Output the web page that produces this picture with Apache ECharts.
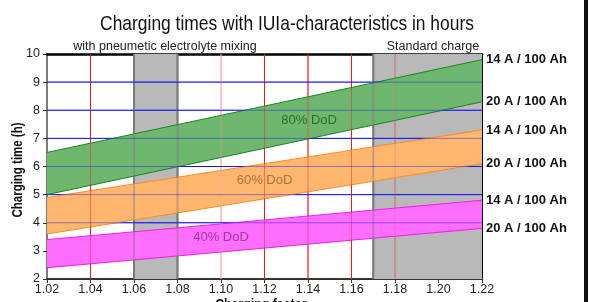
<!DOCTYPE html>
<html>
<head>
<meta charset="utf-8">
<script src="https://cdn.jsdelivr.net/npm/echarts@6/dist/echarts.min.js"></script>
<style>
  html, body { margin: 0; padding: 0; background: #fff; }
  #chart { width: 590px; height: 302px; }
</style>
</head>
<body>
<div id="chart"></div>
<script>
// charging factor at both ends of every band
const factors = [1.02, 1.22];
// charging time (h): upper edge = 14 A / 100 Ah, lower edge = 20 A / 100 Ah
const dod80Upper = [6.5, 9.8];
const dod80Lower = [5.0, 8.3];
const dod60Upper = [4.9, 7.3];
const dod60Lower = [3.6, 6.1];
const dod40Upper = [3.4, 4.8];
const dod40Lower = [2.4, 3.8];
const bandNames = ['80% DoD', '60% DoD', '40% DoD'];
const edgeNames = ['14 A / 100 Ah', '20 A / 100 Ah'];
// shaded charge-factor ranges
const mixingRange = [1.06, 1.08];
const standardRange = [1.17, 1.22];
// grid lines
const redLines = [1.04, 1.10, 1.12, 1.14, 1.16, 1.18];
const grayLines = [1.06, 1.08, 1.17];
const blueLines = [4, 5, 6, 7, 8, 9];
// where the band names sit (factor, hours)
const bandNameSpots = [[1.1405, 7.65], [1.12, 5.5], [1.1, 3.47]];

const sans = "'Liberation Sans', Arial, sans-serif";
const yMin = 2, yMax = 10, xMin = 1.02, xMax = 1.22;

const bands = [
  { upper: dod80Upper, lower: dod80Lower, fill: '#6fb76f', edge: '#17851a', text: '#1d5a1d' },
  { upper: dod60Upper, lower: dod60Lower, fill: '#ffb76f', edge: '#ff8a1c', text: '#9c5e2a' },
  { upper: dod40Upper, lower: dod40Lower, fill: '#ff6eff', edge: '#f01cf0', text: '#8a2c8a' }
];

const pts = (ys) => factors.map((x, i) => [x, ys[i]]);

function redColor(v) {
  if (Math.abs(v - 1.10) < 1e-6) return '#ff9c9c';
  if (Math.abs(v - 1.18) < 1e-6) return '#c97b7b';
  return '#ff1414';
}

// one custom series drawing all grid lines, at a given opacity
function gridLines(opacity, z) {
  const items = [].concat(
    redLines.map(v => ({ value: [v, 0], color: redColor(v), w: 1 })),
    grayLines.map(v => ({ value: [v, 0], color: '#7a7a7a', w: 2 })),
    blueLines.map(v => ({ value: [0, v], color: '#1414ff', w: 1 }))
  );
  return {
    type: 'custom', z: z, silent: true, clip: false,
    data: items,
    renderItem: (params, api) => {
      const it = items[params.dataIndex];
      let a, b;
      if (it.value[1] === 0) {
        a = api.coord([it.value[0], yMin]); b = api.coord([it.value[0], yMax]);
      } else {
        a = api.coord([xMin, it.value[1]]); b = api.coord([xMax, it.value[1]]);
      }
      return {
        type: 'line',
        shape: { x1: a[0], y1: a[1], x2: b[0], y2: b[1] },
        style: { stroke: it.color, lineWidth: it.w, opacity: opacity }
      };
    }
  };
}

const series = [];

// gray ranges under everything
series.push({
  type: 'line', data: [], z: 1, silent: true,
  markArea: {
    silent: true,
    itemStyle: { color: '#b9b9b9' },
    data: [
      [{ xAxis: mixingRange[0] }, { xAxis: mixingRange[1] }],
      [{ xAxis: standardRange[0] }, { xAxis: standardRange[1] }]
    ]
  }
});

series.push(gridLines(1, 2));

// band fills
bands.forEach((b) => {
  series.push({
    type: 'custom', z: 3, silent: true,
    data: [0],
    renderItem: (params, api) => {
      const poly = pts(b.upper).concat(pts(b.lower).reverse()).map(p => api.coord(p));
      return { type: 'polygon', shape: { points: poly }, style: { fill: b.fill } };
    }
  });
});

// band edges with right-hand labels
bands.forEach((b) => {
  [b.upper, b.lower].forEach((ys, k) => {
    series.push({
      type: 'line', z: 4, silent: true, symbol: 'none',
      data: pts(ys),
      lineStyle: { color: b.edge, width: 1 },
      endLabel: {
        show: true, distance: 4,
        formatter: () => edgeNames[k],
        color: '#111', fontFamily: sans, fontWeight: 'bold', fontSize: 13
      }
    });
  });
});

// translucent grid lines over the bands
series.push(gridLines(0.45, 5));

// band names
series.push({
  type: 'scatter', z: 6, silent: true, symbolSize: 0,
  data: bandNameSpots.map((p, i) => ({ value: p, name: bandNames[i], label: { color: bands[i].text } })),
  label: {
    show: true, position: 'inside', formatter: (p) => p.name,
    fontFamily: sans, fontSize: 13
  }
});

const chart = echarts.init(document.getElementById('chart'));
chart.setOption({
  animation: false,
  title: [
    { text: 'with pneumetic electrolyte mixing', left: 160, top: 35, textAlign: 'center',
      textStyle: { fontFamily: sans, fontSize: 12.5, fontWeight: 'normal', color: '#222' } },
    { text: 'Standard charge', left: 428, top: 35, textAlign: 'center',
      textStyle: { fontFamily: sans, fontSize: 12.5, fontWeight: 'normal', color: '#222' } }
  ],
  grid: { left: 47, right: 108, top: 54, bottom: 23, show: false, outerBoundsMode: 'none', containLabel: false },
  xAxis: [{
    type: 'value', min: xMin, max: xMax, interval: 0.02,
    axisLine: { show: true, onZero: false, lineStyle: { color: '#333', width: 2 } },
    axisTick: { show: true, length: 4, lineStyle: { color: '#333' } },
    axisLabel: { formatter: (v) => v.toFixed(2), fontFamily: sans, fontSize: 12.5, color: '#222', margin: 4 },
    splitLine: { show: false }
  }, {
    type: 'value', position: 'top', min: xMin, max: xMax,
    axisLine: { show: true, lineStyle: { color: '#000', width: 2.5 } },
    axisTick: { show: false }, axisLabel: { show: false }, splitLine: { show: false }
  }],
  yAxis: [{
    type: 'value', min: yMin, max: yMax, interval: 1,
    axisLine: { show: true, onZero: false, lineStyle: { color: '#7c7c7c', width: 2 } },
    axisTick: { show: true, length: 4, lineStyle: { color: '#333' } },
    axisLabel: { fontFamily: sans, fontSize: 12.5, color: '#222', margin: 7 },
    splitLine: { show: false }
  }, {
    type: 'value', position: 'right', min: yMin, max: yMax,
    axisLine: { show: true, lineStyle: { color: '#000', width: 2 } },
    axisTick: { show: false }, axisLabel: { show: false }, splitLine: { show: false }
  }],
  graphic: [
    { type: 'text', x: 287, y: 24, scaleX: 0.83,
      style: { text: 'Charging times with IUIa-characteristics in hours', font: 'normal 21px ' + sans,
        fill: '#111', textAlign: 'center', textVerticalAlign: 'middle' } },
    { type: 'text', x: 18, y: 170, rotation: Math.PI / 2, scaleX: 0.82,
      style: { text: 'Charging time (h)', font: 'bold 14px ' + sans,
        fill: '#111', textAlign: 'center', textVerticalAlign: 'middle' } },
    { type: 'text', x: 261, y: 298, scaleX: 0.88,
      style: { text: 'Charging factor', font: 'bold 14px ' + sans,
        fill: '#111', textAlign: 'center', textVerticalAlign: 'top' } },
    { type: 'rect', shape: { x: 584, y: 0, width: 4, height: 302 }, style: { fill: '#111' } }
  ],
  series: series
});
</script>
</body>
</html>
